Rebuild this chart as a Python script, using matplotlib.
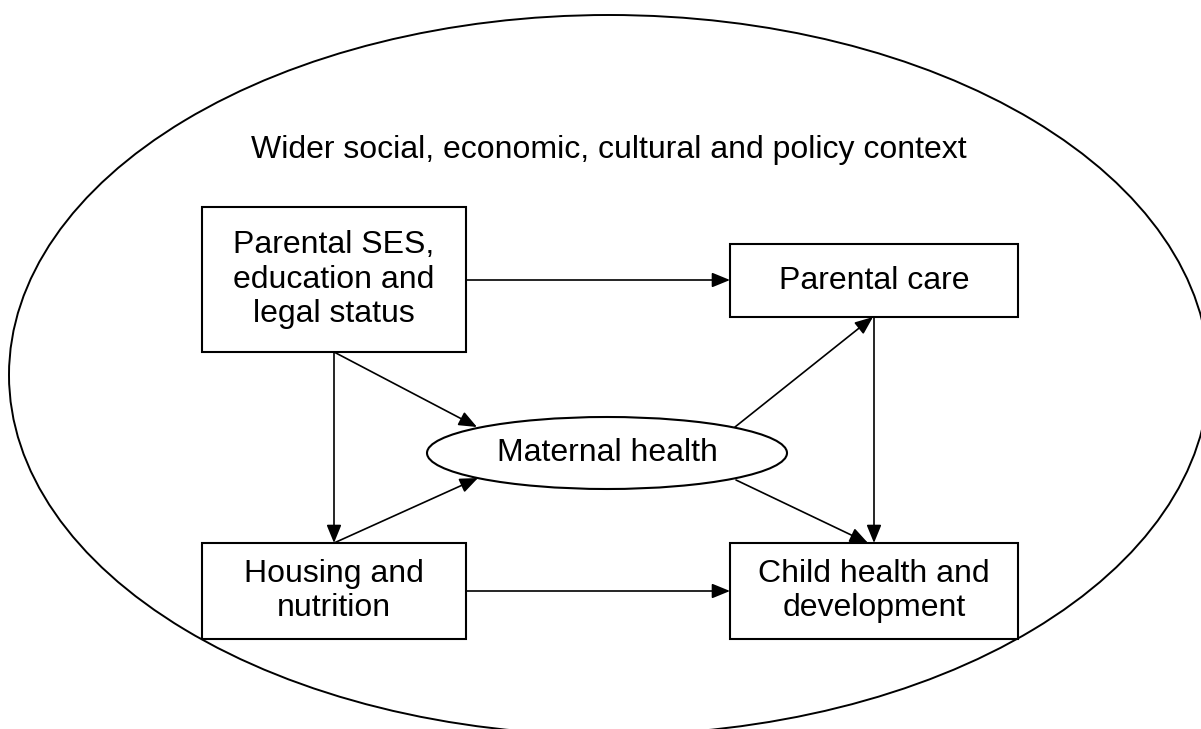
"""Conceptual diagram: determinants of child health and development."""

import matplotlib
matplotlib.use('Agg')
import matplotlib.pyplot as plt
from matplotlib.patches import Rectangle, Ellipse, FancyArrowPatch

# Node labels
node_ids = ["ses", "care", "maternal", "housing", "child"]
node_labels = [
    "Parental SES,\neducation and\nlegal status",
    "Parental care",
    "Maternal health",
    "Housing and\nnutrition",
    "Child health and\ndevelopment",
]
context_label = "Wider social, economic, cultural and policy context"

# Directed links (source, target)
edges = [
    ("ses", "care"),
    ("ses", "housing"),
    ("ses", "maternal"),
    ("housing", "maternal"),
    ("maternal", "care"),
    ("care", "child"),
    ("maternal", "child"),
    ("housing", "child"),
]

# Layout in pixel coordinates (x0, y0, x1, y1)
BOXES = {
    "ses": (202, 207, 466, 352),
    "care": (730, 244, 1018, 317),
    "housing": (202, 543, 466, 639),
    "child": (730, 543, 1018, 639),
}
MATERNAL = (607, 453, 360, 72)      # cx, cy, width, height
OUTER = (609, 375, 1200, 720)       # cx, cy, width, height

# Where each link leaves and enters its nodes
ANCHORS = {
    ("ses", "care"): ((466, 280), (730, 280)),
    ("ses", "housing"): ((334, 352), (334, 543)),
    ("ses", "maternal"): ((334, 352), (477, 427)),
    ("housing", "maternal"): ((334, 543), (478, 478)),
    ("maternal", "care"): ((735, 427), (873, 317)),
    ("care", "child"): ((874, 317), (874, 543)),
    ("maternal", "child"): ((736, 480), (868, 543)),
    ("housing", "child"): ((466, 591), (730, 591)),
}

FONT = ['Liberation Sans', 'DejaVu Sans']
FS = 23

fig = plt.figure(figsize=(12.01, 7.29), dpi=100, facecolor='white')
ax = fig.add_axes([0, 0, 1, 1])
ax.set_xlim(0, 1201)
ax.set_ylim(729, 0)
ax.set_axis_off()

# Outer context ellipse
cx, cy, w, h = OUTER
ax.add_patch(Ellipse((cx, cy), w, h, facecolor='none', edgecolor='black', linewidth=1.4))
ax.text(cx, 150, context_label, ha='center', va='center', fontsize=FS, family=FONT)

# Arrows
for src, dst in edges:
    start, end = ANCHORS[(src, dst)]
    ax.add_patch(FancyArrowPatch(
        start, end,
        arrowstyle='-|>,head_length=11,head_width=4.5',
        color='black', linewidth=1.2,
        shrinkA=0, shrinkB=0, zorder=2,
    ))

# Boxes and maternal ellipse
labels = dict(zip(node_ids, node_labels))
for key, (x0, y0, x1, y1) in BOXES.items():
    ax.add_patch(Rectangle((x0, y0), x1 - x0, y1 - y0, facecolor='white',
                           edgecolor='black', linewidth=1.5, zorder=3))
    ax.text((x0 + x1) / 2, (y0 + y1) / 2, labels[key], ha='center', va='center',
            fontsize=FS, family=FONT, linespacing=1.2, zorder=4)

mx, my, mw, mh = MATERNAL
ax.add_patch(Ellipse((mx, my), mw, mh, facecolor='white', edgecolor='black',
                     linewidth=1.5, zorder=3))
ax.text(mx, my, labels["maternal"], ha='center', va='center', fontsize=FS,
        family=FONT, zorder=4)

fig.savefig('out.png', dpi=100, facecolor='white')
